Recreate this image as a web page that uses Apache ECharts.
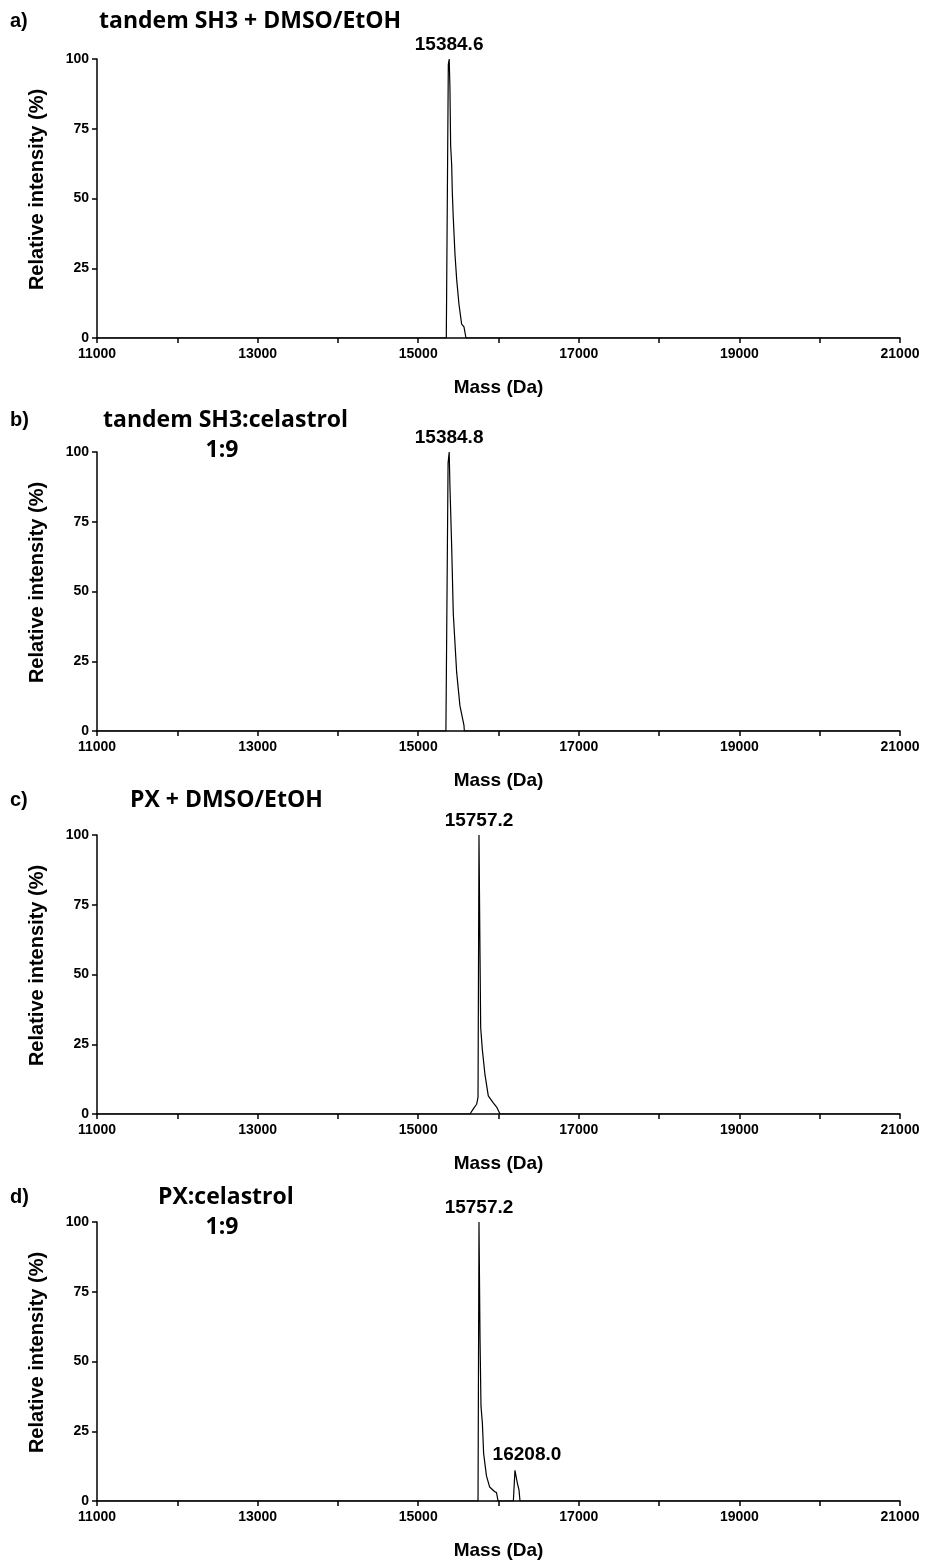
<!DOCTYPE html>
<html><head><meta charset="utf-8">
<script src="https://cdn.jsdelivr.net/npm/echarts@6/dist/echarts.min.js"></script>
<style>html,body{margin:0;padding:0;background:#fff}#c{width:925px;height:1562px}</style>
</head><body><div id="c"></div>
<script>
// Spectra (mass Da, relative intensity %)
const spectrumA = [[11000,0],[15350,0],[15375,98],[15386,100],[15395,90],[15404,69],[15417,62],[15425,52],[15437,43],[15458,30],[15479,21],[15508,12],[15541,5],[15570,4],[15595,0],[21000,0]];
const spectrumB = [[11000,0],[15345,0],[15372,96],[15386,100],[15395,88],[15417,66],[15437,42],[15479,21],[15520,9],[15570,2],[15575,0],[21000,0]];
const spectrumC = [[11000,0],[15645,0],[15690,2],[15728,3.5],[15745,6],[15757,100],[15770,56],[15778,31],[15799,23],[15832,14],[15873,6.5],[15935,4],[15977,2.5],[16019,0],[21000,0]];
const spectrumD = [[11000,0],[15745,0],[15757,100],[15770,58],[15782,34],[15799,28],[15815,17],[15850,9],[15890,5],[15950,3.4],[15975,3],[15995,0],[16185,0],[16205,11],[16234,6.5],[16255,4],[16268,0],[21000,0]];
const spectra = [spectrumA, spectrumB, spectrumC, spectrumD];
const peakLabels = [
  [[15385,100,'15384.6']],
  [[15385,100,'15384.8']],
  [[15757,100,'15757.2']],
  [[15757,100,'15757.2'],[16205,11,'16208.0']]
];
const panelLetters = ['a)','b)','c)','d)'];
const panelTitles = [['tandem SH3 + DMSO/EtOH'],['tandem SH3:celastrol','1:9'],['PX + DMSO/EtOH'],['PX:celastrol','1:9']];
const xTicks = [11000,13000,15000,17000,19000,21000];
const yTicks = [0,25,50,75,100];

const gridTops = [59,452,835,1222];
const gridH = 279;
const chart = echarts.init(document.getElementById('c'));
const F = 'Liberation Sans, Arial, sans-serif';
const TF = 'bold 23px "Open Sans", sans-serif';
const grids=[],xAxes=[],yAxes=[],series=[],graphics=[];
const titleCenters=[[21],[420,450],[800],[1197,1227]];
const titleX=[99,103,130,158];
gridTops.forEach((t,i)=>{
  grids.push({left:97,width:803,top:t,height:gridH});
  xAxes.push({type:'value',gridIndex:i,min:11000,max:21000,interval:1000,
    axisLine:{lineStyle:{color:'#000',width:1.5}},
    axisTick:{length:5,lineStyle:{color:'#000',width:1.5}},
    splitLine:{show:false},
    axisLabel:{color:'#000',fontFamily:F,fontWeight:'bold',fontSize:14,margin:9,
      formatter:v=>xTicks.includes(v)?String(v):''},
    name:'Mass (Da)',nameLocation:'middle',nameGap:40,
    nameTextStyle:{color:'#000',fontFamily:F,fontWeight:'bold',fontSize:19}});
  yAxes.push({type:'value',gridIndex:i,min:0,max:100,interval:25,
    axisLine:{show:true,lineStyle:{color:'#000',width:1.5}},
    axisTick:{show:true,length:5,lineStyle:{color:'#000',width:1.5}},
    splitLine:{show:false},
    axisLabel:{color:'#000',fontFamily:F,fontWeight:'bold',fontSize:14,margin:8,
      formatter:v=>yTicks.includes(v)?String(v):''},
    name:'Relative intensity (%)',nameLocation:'middle',nameGap:50,nameRotate:90,
    nameTextStyle:{color:'#000',fontFamily:F,fontWeight:'bold',fontSize:20,padding:[0,0,0,18]}});
  series.push({type:'line',xAxisIndex:i,yAxisIndex:i,data:spectra[i],symbol:'none',
    lineStyle:{color:'#000',width:1.2},silent:true,animation:false,
    markPoint:{symbol:'circle',symbolSize:0,silent:true,
      data:peakLabels[i].map((p,j)=>({coord:[p[0],p[1]],value:p[2],
        label:{show:true,position:'top',distance:(j===0?5:6),offset:(j===0?[0,0]:[12,0]),
          formatter:p[2],color:'#000',fontFamily:F,fontWeight:'bold',fontSize:19}}))}});
  graphics.push({type:'text',x:10,y:titleCenters[i][0],
    style:{text:panelLetters[i],fill:'#000',font:'bold 20px '+F,verticalAlign:'middle'}});
  graphics.push({type:'text',x:titleX[i],y:titleCenters[i][0],
    style:{text:panelTitles[i][0],fill:'#000',font:TF,verticalAlign:'middle'}});
  if(panelTitles[i][1]){
    graphics.push({type:'text',x:222,y:titleCenters[i][1],
      style:{text:panelTitles[i][1],fill:'#000',font:TF,align:'center',verticalAlign:'middle'}});
  }
});
chart.setOption({animation:false,backgroundColor:'#fff',grid:grids,xAxis:xAxes,yAxis:yAxes,series:series,graphic:graphics});
</script></body></html>
